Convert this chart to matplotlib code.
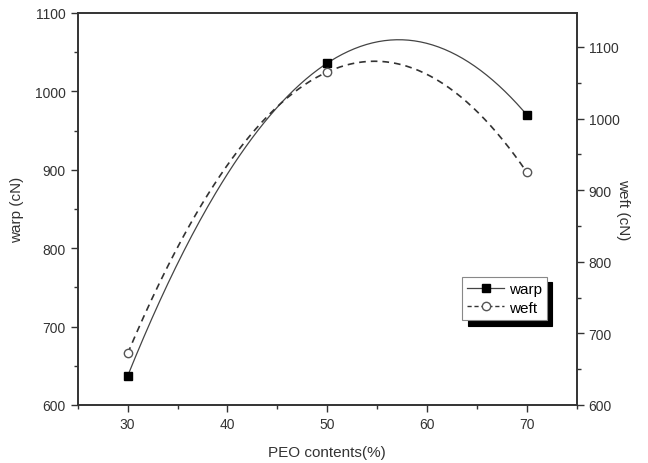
import numpy as np
import matplotlib.pyplot as plt
from matplotlib.ticker import MultipleLocator

plt.rcParams['font.family'] = ['Liberation Sans', 'DejaVu Sans']

# data
peo = [30, 50, 70]
warp = [637, 1036, 970]
weft = [672, 1065, 925]

fig = plt.figure(figsize=(6.48, 4.64), dpi=100)
ax = fig.add_axes([0.120, 0.125, 0.770, 0.845])
ax2 = ax.twinx()

# smooth curves through the three points
xs = np.linspace(30, 70, 200)
warp_fit = np.polyval(np.polyfit(peo, warp, 2), xs)
weft_fit = np.polyval(np.polyfit(peo, weft, 2), xs)

ax.plot(xs, warp_fit, color='#444444', lw=0.9)
ax.plot(peo, warp, ls='none', marker='s', ms=6, mfc='black', mec='black')
ax2.plot(xs, weft_fit, color='#333333', lw=1.2, ls=(0, (4, 3)))
ax2.plot(peo, weft, ls='none', marker='o', ms=6, mfc='white', mec='#555555')

ax.set_xlim(25, 75)
ax.set_ylim(600, 1100)
ax2.set_ylim(600, 1147.5)

ax.xaxis.set_major_locator(MultipleLocator(10))
ax.xaxis.set_minor_locator(MultipleLocator(5))
ax.yaxis.set_major_locator(MultipleLocator(100))
ax.yaxis.set_minor_locator(MultipleLocator(50))
ax2.yaxis.set_major_locator(MultipleLocator(100))
ax2.yaxis.set_minor_locator(MultipleLocator(50))
ax2.set_yticks(range(600, 1101, 100))

for a in (ax, ax2):
    a.tick_params(which='major', length=5, width=1, labelsize=10, colors='#333333')
    a.tick_params(which='minor', length=3, width=1, colors='#333333')
    for s in a.spines.values():
        s.set_color('#333333')
        s.set_linewidth(1.2)

ax.set_xlabel('PEO contents(%)', fontsize=11, color='#333333', labelpad=10)
ax.set_ylabel('warp (cN)', fontsize=11, color='#333333', labelpad=8)
ax2.set_ylabel('weft (cN)', fontsize=11, color='#333333', rotation=270, labelpad=8)

h1 = plt.Line2D([], [], color='#444444', lw=0.9, marker='s', ms=6, mfc='black', mec='black')
h2 = plt.Line2D([], [], color='#333333', lw=1.0, ls=(0, (3, 2)), marker='o', ms=6, mfc='white', mec='#555555')
leg = ax2.legend([h1, h2], ['warp', 'weft'], loc='upper left', bbox_to_anchor=(0.77, 0.327),
                 fontsize=11, frameon=True, fancybox=False, handlelength=2.4, handletextpad=0.3,
                 borderpad=0.35, labelspacing=0.3, borderaxespad=0,
                 shadow={'color': 'black', 'alpha': 1, 'ox': 4, 'oy': -4})
leg.get_frame().set_edgecolor('#888888')
leg.get_frame().set_linewidth(0.8)

plt.savefig('out.png', dpi=100)
plt.close()
